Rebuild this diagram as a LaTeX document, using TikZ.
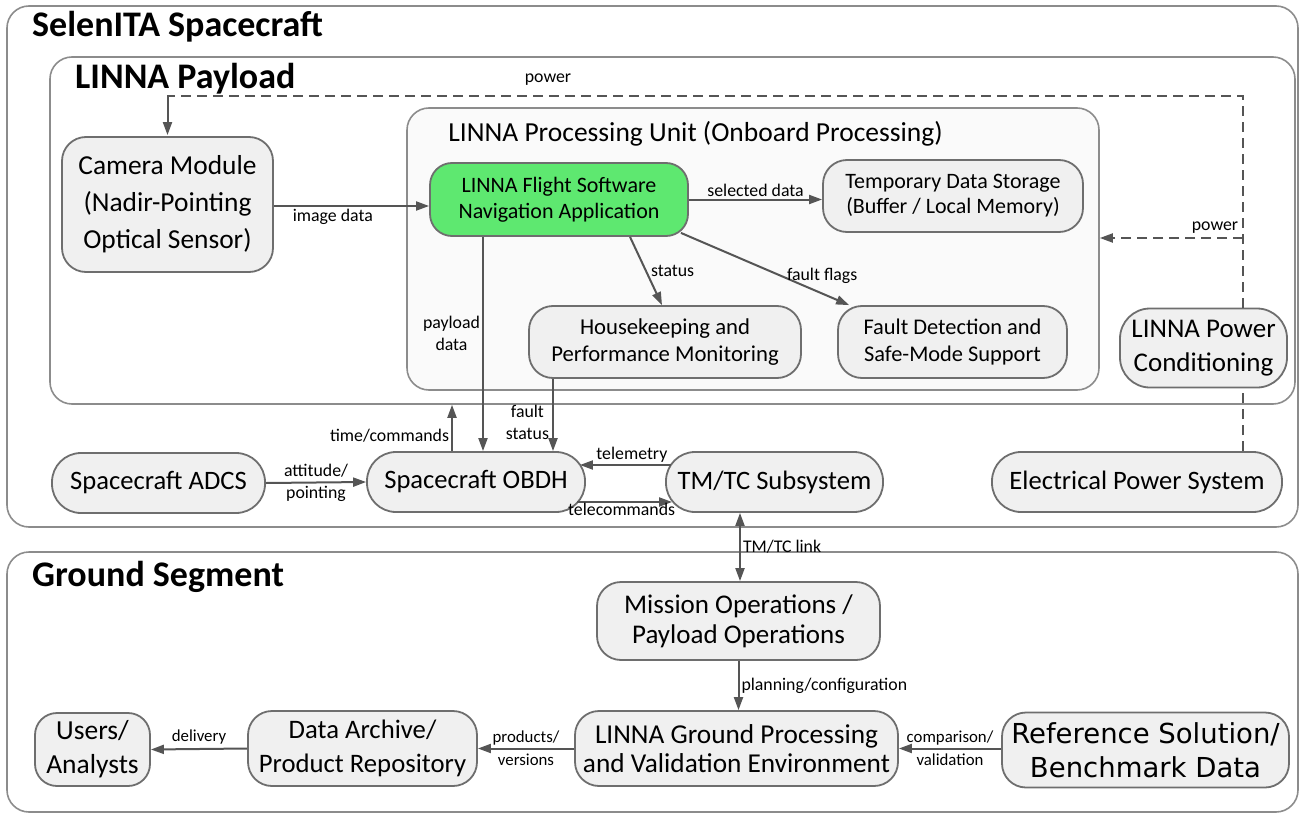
\documentclass[tikz,border=0pt]{standalone}
\usepackage{fontspec}
\setmainfont{Carlito}
\newfontfamily\refsans{DejaVu Sans}
\usetikzlibrary{arrows.meta,positioning,calc}
\definecolor{boxfill}{RGB}{240,240,240}
\definecolor{boxline}{RGB}{110,110,110}
\definecolor{grpline}{RGB}{140,140,140}
\definecolor{unitfill}{RGB}{250,250,250}
\definecolor{fswcolor}{RGB}{94,232,112}
\definecolor{linkcolor}{RGB}{85,85,85}

\begin{document}
\begin{tikzpicture}[x=1pt, y=-1pt,
  group/.style={draw=grpline, line width=1.6pt, rounded corners=22pt, inner sep=0pt},
  box/.style={draw=boxline, fill=boxfill, line width=1.8pt, rounded corners=24pt,
              align=center, inner sep=0pt, font=\fontsize{22.5}{26.5}\selectfont},
  pill/.style={box, rounded corners=29pt, font=\fontsize{26.6}{30}\selectfont},
  title/.style={anchor=west, inner sep=0pt, font=\fontsize{36}{42}\selectfont\bfseries},
  arr/.style={-{Triangle[length=13pt, width=9pt]}, line width=2pt, draw=linkcolor},
  dblarr/.style={arr, {Triangle[length=13pt, width=9pt]}-{Triangle[length=13pt, width=9pt]}},
  pwr/.style={draw=linkcolor, line width=2pt, dash pattern=on 10pt off 6pt},
  lbl/.style={font=\fontsize{17.8}{22}\selectfont, inner sep=2pt, align=center},
  small/.style={lbl, font=\fontsize{16.8}{23}\selectfont}
]
\useasboundingbox (0,0) rectangle (1307,816);

\node[group, minimum width=1291pt, minimum height=521pt] (sc) at (652.5,266.5) {};
\node[group, minimum width=1245pt, minimum height=347pt] (pl) at (672.5,230.5) {};
\node[group, fill=unitfill, minimum width=692pt, minimum height=282pt] (pu) at (753,249) {};
\node[group, minimum width=1291pt, minimum height=260pt] (gs) at (652.5,682) {};

\node[title] (sctitle) at (32,27) {SelenITA Spacecraft};
\node[title] (pltitle) at (75,79) {LINNA Payload};
\node[title] (gstitle) at (32,577) {Ground Segment};
\node[font=\fontsize{27.5}{30}\selectfont] (putitle) at (695.5,134)
  {LINNA Processing Unit (Onboard Processing)};

\node[box, font=\fontsize{27.4}{37}\selectfont, minimum width=211pt, minimum height=135pt]
  (cam) at (167.5,204.5) {Camera Module\\(Nadir-Pointing\\Optical Sensor)};
\node[box, fill=fswcolor, rounded corners=22pt, font=\fontsize{22}{26}\selectfont,
      minimum width=258pt, minimum height=73pt]
  (fsw) at (559,199.5) {LINNA Flight Software\\Navigation Application};
\node[box, font=\fontsize{22}{25}\selectfont, minimum width=260pt, minimum height=72pt] (tmp) at (953,196)
  {Temporary Data Storage\\(Buffer / Local Memory)};
\node[box, font=\fontsize{22.7}{27}\selectfont, minimum width=272pt, minimum height=72pt] (hk) at (665,342)
  {Housekeeping and\\Performance Monitoring};
\node[box, font=\fontsize{22.4}{27}\selectfont, minimum width=229pt, minimum height=72pt] (fdir) at (952.5,342)
  {Fault Detection and\\Safe-Mode Support};
\node[box, font=\fontsize{27}{34}\selectfont, rounded corners=30pt, minimum width=167pt, minimum height=79pt]
  (pcu) at (1203.5,348) {LINNA Power\\Conditioning};

\node[pill, minimum width=213pt, minimum height=60pt] (adcs) at (158.5,483) {Spacecraft ADCS};
\node[pill, minimum width=218pt, minimum height=60pt] (obdh) at (476,482) {Spacecraft OBDH};
\node[pill, minimum width=217pt, minimum height=60pt] (tmtc) at (774.5,482) {TM/TC Subsystem};
\node[pill, minimum width=290pt, minimum height=60pt] (eps) at (1137,482) {Electrical Power System};

\node[box, font=\fontsize{27}{30}\selectfont, minimum width=283pt, minimum height=78pt]
  (mops) at (738.5,621) {Mission Operations /\\Payload Operations};
\node[box, font=\fontsize{27.3}{29}\selectfont, minimum width=323pt, minimum height=75pt]
  (gproc) at (736.5,748.5) {LINNA Ground Processing\\and Validation Environment};
\node[box, font=\refsans\fontsize{27.5}{34}\selectfont, minimum width=287pt, minimum height=75pt]
  (ref) at (1145.5,750) {Reference Solution/\\Benchmark Data};
\node[box, font=\fontsize{26.7}{34}\selectfont, minimum width=229pt, minimum height=75pt]
  (arch) at (362.5,748.5) {Data Archive/\\Product Repository};
\node[box, font=\fontsize{27.5}{34}\selectfont, rounded corners=22pt, minimum width=115pt, minimum height=73pt]
  (users) at (92.5,749.5) {Users/\\Analysts};

\coordinate (pwrtop) at (1243,96);
\coordinate (pwrtap) at (1243,238);
\draw[pwr] (pcu.north -| pwrtop) -- (pwrtop) -| ([xshift=0.5pt]cam.north);
\draw[pwr, -{Triangle[length=13pt, width=9pt]}] (pwrtop -| cam.north) -- ([yshift=1pt]cam.north);
\draw[pwr, -{Triangle[length=13pt, width=9pt]}] (pwrtap) -- (pwrtap -| pu.east);
\draw[pwr] (eps.north -| pwrtop) -- (pcu.south -| pwrtop);
\node[lbl] (pwrlbl1) at (548,80) {power};
\node[lbl] (pwrlbl2) at (1215,228) {power};

\draw[arr] ([yshift=-1.5pt]cam.east) -- ([yshift=-1.5pt]cam.east -| fsw.west)
  node[lbl, below, pos=0.38] {image data};
\draw[arr] (fsw.east) -- (fsw.east -| tmp.west) node[lbl, above, midway] {selected data};
\draw[arr] ([xshift=71pt]fsw.south) -- ([xshift=-3pt]hk.north)
  node[lbl, right, midway, xshift=2pt] {status};
\draw[arr] ([xshift=-8pt, yshift=4pt]fsw.south east) -- ([xshift=12pt]fdir.north west)
  node[lbl, above right, pos=0.72, xshift=-18pt, yshift=-2pt] {fault flags};
\draw[arr] ([xshift=-76pt]fsw.south) -- ([xshift=-76pt]fsw.south |- obdh.north)
  node[lbl, left, pos=0.45] {payload\\data};
\draw[arr] ([xshift=-112pt]hk.south) -- ([xshift=-112pt]hk.south |- obdh.north)
  node[lbl, left, pos=0.6, xshift=-1pt] {fault\\status};
\draw[arr] ([xshift=-24pt]obdh.north) -- ([xshift=-24pt]obdh.north |- pl.south)
  node[lbl, left, pos=0.33] {time/commands};

\draw[arr] (adcs.east) -- (obdh.west) node[lbl, midway] {attitude/\\pointing};
\draw[arr] ([xshift=6pt, yshift=17pt]tmtc.west) -- ([xshift=-6pt, yshift=17pt]obdh.east)
  node[lbl, above, pos=0.43] {telemetry};
\draw[arr] ([xshift=-9pt, yshift=-20pt]obdh.east) -- ([xshift=7pt, yshift=-20pt]tmtc.west)
  node[lbl, below, pos=0.47, yshift=2pt] {telecommands};
\draw[dblarr] ([xshift=-34.5pt]tmtc.south) -- ([xshift=-34.5pt]tmtc.south |- mops.north)
  node[lbl, right, midway] {TM/TC link};

\draw[arr] (mops.south) -- (mops.south |- gproc.north) node[lbl, right, midway] {planning/configuration};
\draw[arr] (ref.west |- gproc.east) -- (gproc.east) node[small, midway] {comparison/\\validation};
\draw[arr] (gproc.west) -- (arch.east) node[small, midway] {products/\\versions};
\draw[arr] (arch.west) -- (users.east) node[small, above, midway, yshift=2pt] {delivery};

\end{tikzpicture}
\end{document}
